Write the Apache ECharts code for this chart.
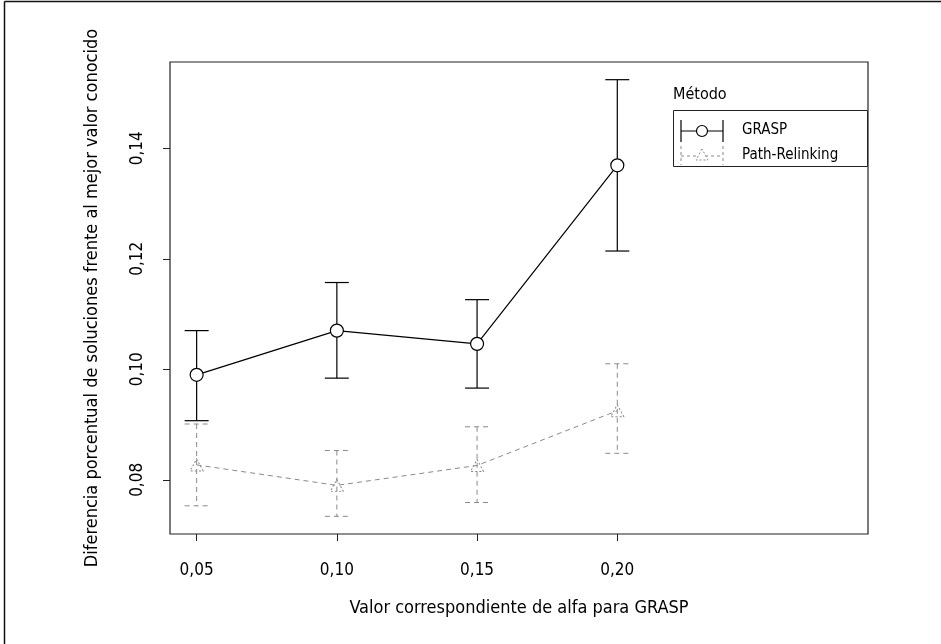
<!DOCTYPE html>
<html>
<head>
<meta charset="utf-8">
<script src="https://cdn.jsdelivr.net/npm/echarts@6/dist/echarts.min.js"></script>
<style>
html,body{margin:0;padding:0;background:#fff;}
#chart{width:941px;height:644px;}
</style>
</head>
<body>
<div id="chart"></div>
<script>
// ---- data ----
const alphas = [0.05, 0.10, 0.15, 0.20];
const xTickLabels = ['0,05', '0,10', '0,15', '0,20'];
const yTicks = [0.08, 0.10, 0.12, 0.14];
const yTickLabels = ['0,08', '0,10', '0,12', '0,14'];

const graspMean = [0.0990, 0.1070, 0.1046, 0.1369];
const graspLow  = [0.0907, 0.0984, 0.0966, 0.1214];
const graspHigh = [0.1070, 0.1157, 0.1126, 0.1524];

const prMean = [0.0827, 0.0790, 0.0826, 0.0925];
const prLow  = [0.0753, 0.0734, 0.0759, 0.0848];
const prHigh = [0.0901, 0.0853, 0.0896, 0.1010];

const seriesNames = ['GRASP', 'Path-Relinking'];
const legendTitle = 'Método';
const xTitle = 'Valor correspondiente de alfa para GRASP';
const yTitle = 'Diferencia porcentual de soluciones frente al mejor valor conocido';

// ---- styling ----
const FONT = "'DejaVu Sans Condensed', 'Liberation Sans Narrow', sans-serif";
const BLACK = '#000000';
const GREY = '#8a8a8a';
const DASH = [5, 4];

function pairs(xs, ys) { return xs.map((x, i) => [x, ys[i]]); }
function errTriples(xs, lo, hi) { return xs.map((x, i) => [x, lo[i], hi[i]]); }

function errorBarRenderer(color, dashed, width) {
  return function (params, api) {
    const x = api.value(0);
    const lo = api.coord([x, api.value(1)]);
    const hi = api.coord([x, api.value(2)]);
    const half = 12;
    const style = { stroke: color, lineWidth: width, lineDash: dashed ? DASH : null };
    return {
      type: 'group',
      children: [
        { type: 'line', shape: { x1: hi[0], y1: hi[1], x2: lo[0], y2: lo[1] }, style: style },
        { type: 'line', shape: { x1: hi[0] - half, y1: hi[1], x2: hi[0] + half, y2: hi[1] }, style: style },
        { type: 'line', shape: { x1: lo[0] - half, y1: lo[1], x2: lo[0] + half, y2: lo[1] }, style: style }
      ]
    };
  };
}

const chart = echarts.init(document.getElementById('chart'), null, { renderer: 'canvas' });

// legend drawn as graphic (error-bar style keys)
const LX0 = 681, LX1 = 723, LXC = 702;
const legendGraphics = [
  { type: 'text', x: 673, y: 95, style: { text: legendTitle, font: "16px " + FONT, fill: '#000', verticalAlign: 'middle' } },
  { type: 'rect', shape: { x: 673.5, y: 110.5, width: 194, height: 56 }, style: { fill: '#fff', stroke: '#222', lineWidth: 1 }, z: 10 },
  // GRASP key
  { type: 'line', shape: { x1: LX0, y1: 131, x2: LX1, y2: 131 }, style: { stroke: BLACK, lineWidth: 1.2 }, z: 11 },
  { type: 'line', shape: { x1: LX0, y1: 120, x2: LX0, y2: 142 }, style: { stroke: BLACK, lineWidth: 1.2 }, z: 11 },
  { type: 'line', shape: { x1: LX1, y1: 120, x2: LX1, y2: 142 }, style: { stroke: BLACK, lineWidth: 1.2 }, z: 11 },
  { type: 'circle', shape: { cx: LXC, cy: 131, r: 5.5 }, style: { fill: '#fff', stroke: BLACK, lineWidth: 1.2 }, z: 12 },
  { type: 'text', x: 742, y: 130, style: { text: seriesNames[0], font: "15px " + FONT, fill: '#000', verticalAlign: 'middle' }, z: 11 },
  // Path-Relinking key
  { type: 'line', shape: { x1: LX0, y1: 156, x2: LX1, y2: 156 }, style: { stroke: GREY, lineWidth: 1, lineDash: [3, 3] }, z: 11 },
  { type: 'line', shape: { x1: LX0, y1: 146, x2: LX0, y2: 165 }, style: { stroke: GREY, lineWidth: 1, lineDash: [3, 3] }, z: 11 },
  { type: 'line', shape: { x1: LX1, y1: 146, x2: LX1, y2: 165 }, style: { stroke: GREY, lineWidth: 1, lineDash: [3, 3] }, z: 11 },
  { type: 'polygon', shape: { points: [[LXC, 149], [LXC - 6, 160], [LXC + 6, 160]] }, style: { fill: '#fff', stroke: GREY, lineWidth: 1, lineDash: [2, 2] }, z: 12 },
  { type: 'text', x: 742, y: 155, style: { text: seriesNames[1], font: "15px " + FONT, fill: '#000', verticalAlign: 'middle' }, z: 11 },
  // outer figure frame (top and left edges visible)
  { type: 'line', shape: { x1: 4.5, y1: 1.5, x2: 941, y2: 1.5 }, style: { stroke: '#111', lineWidth: 1.5 } },
  { type: 'line', shape: { x1: 4.5, y1: 1.5, x2: 4.5, y2: 644 }, style: { stroke: '#111', lineWidth: 1.5 } }
];

const option = {
  backgroundColor: '#ffffff',
  animation: false,
  textStyle: { fontFamily: FONT },
  grid: {
    left: 170, top: 62, right: 73, bottom: 110,
    outerBoundsMode: 'none', containLabel: false,
    show: true, borderColor: '#222', borderWidth: 1.2, backgroundColor: 'transparent'
  },
  xAxis: {
    type: 'value',
    min: 0.0405, max: 0.2894,
    name: xTitle,
    nameLocation: 'middle',
    nameGap: 74,
    nameTextStyle: { fontFamily: FONT, fontSize: 18, color: '#000', verticalAlign: 'middle' },
    axisLine: { show: false },
    splitLine: { show: false },
    axisTick: { show: true, length: 7, lineStyle: { color: '#222', width: 1 }, customValues: alphas },
    axisLabel: {
      customValues: alphas, margin: 28, fontFamily: FONT, fontSize: 17, color: '#000',
      formatter: function (v) { const i = alphas.findIndex(a => Math.abs(a - v) < 1e-9); return i >= 0 ? xTickLabels[i] : ''; }
    }
  },
  yAxis: {
    type: 'value',
    min: 0.0702, max: 0.1556,
    name: yTitle,
    nameLocation: 'middle',
    nameGap: 78,
    nameRotate: 90,
    nameTextStyle: { fontFamily: FONT, fontSize: 18, color: '#000', verticalAlign: 'middle' },
    axisLine: { show: false },
    splitLine: { show: false },
    axisTick: { show: true, length: 7, lineStyle: { color: '#222', width: 1 }, customValues: yTicks },
    axisLabel: {
      customValues: yTicks, margin: 24, rotate: 90, fontFamily: FONT, fontSize: 17, color: '#000',
      formatter: function (v) { const i = yTicks.findIndex(a => Math.abs(a - v) < 1e-9); return i >= 0 ? yTickLabels[i] : ''; }
    }
  },
  series: [
    {
      name: seriesNames[1] + ' err', type: 'custom',
      renderItem: errorBarRenderer(GREY, true, 1),
      data: errTriples(alphas, prLow, prHigh),
      encode: { x: 0, y: [1, 2] }, z: 2
    },
    {
      name: seriesNames[1], type: 'line',
      data: pairs(alphas, prMean),
      symbol: 'triangle', symbolSize: [13, 12],
      lineStyle: { color: GREY, width: 1, type: DASH },
      itemStyle: { color: 'rgba(255,255,255,0)', borderColor: GREY, borderWidth: 1, borderType: [2, 2] },
      z: 3
    },
    {
      name: seriesNames[0] + ' err', type: 'custom',
      renderItem: errorBarRenderer(BLACK, false, 1.2),
      data: errTriples(alphas, graspLow, graspHigh),
      encode: { x: 0, y: [1, 2] }, z: 4
    },
    {
      name: seriesNames[0], type: 'line',
      data: pairs(alphas, graspMean),
      symbol: 'circle', symbolSize: 13,
      lineStyle: { color: BLACK, width: 1.2 },
      itemStyle: { color: '#ffffff', borderColor: BLACK, borderWidth: 1.2 },
      z: 5
    }
  ],
  graphic: legendGraphics
};
chart.setOption(option);
</script>
</body>
</html>
